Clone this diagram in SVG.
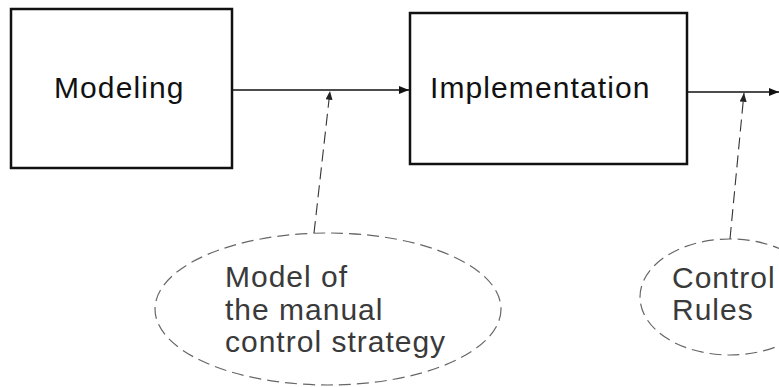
<svg xmlns="http://www.w3.org/2000/svg" width="779" height="387" viewBox="0 0 779 387">
<style>
.box{fill:#fff;stroke:#111;stroke-width:2.5}
.lbl{font-family:"Liberation Sans",Arial,sans-serif;font-size:30px;letter-spacing:1.1px;fill:#111}
.note{font-family:"Liberation Sans",Arial,sans-serif;font-size:30px;letter-spacing:1px;fill:#3a3a3a}
.oval{fill:none;stroke:#666;stroke-width:1.2;stroke-dasharray:12 6}
.flow{fill:none;stroke:#111;stroke-width:1.6}
.dash{fill:none;stroke:#333;stroke-width:1.1;stroke-dasharray:12 6}
</style>
<defs>
<marker id="ah" viewBox="0 0 10 8" refX="10" refY="4" markerWidth="11" markerHeight="8" markerUnits="userSpaceOnUse" orient="auto">
<path d="M0,0 L10,4 L0,8 Z" fill="#111"/>
</marker>
<marker id="ahs" viewBox="0 0 10 8" refX="10" refY="4" markerWidth="9" markerHeight="7" markerUnits="userSpaceOnUse" orient="auto">
<path d="M0,0 L10,4 L0,8 Z" fill="#222"/>
</marker>
</defs>
<rect width="779" height="387" fill="#fff"/>
<g id="modeling">
<rect class="box" x="11" y="9" width="221" height="159"/>
<text class="lbl" x="54" y="98">Modeling</text>
</g>
<g id="implementation">
<rect class="box" x="410" y="13" width="277" height="151"/>
<text class="lbl" x="430" y="98">Implementation</text>
</g>
<g id="model-note">
<ellipse class="oval" cx="328" cy="309" rx="173" ry="76"/>
<text class="note" x="225" y="287">Model of</text>
<text class="note" x="225" y="320">the manual</text>
<text class="note" x="225" y="352">control strategy</text>
</g>
<g id="rules-note">
<ellipse class="oval" cx="730" cy="297" rx="90" ry="58"/>
<text class="note" x="672" y="288">Control</text>
<text class="note" x="672" y="320">Rules</text>
</g>
<g id="connectors">
<line class="flow" x1="233" y1="90" x2="409" y2="90" marker-end="url(#ah)"/>
<line class="flow" x1="688" y1="92" x2="779" y2="92" marker-end="url(#ah)"/>
<line class="dash" x1="314" y1="233" x2="330" y2="91" marker-end="url(#ahs)"/>
<line class="dash" x1="730" y1="239" x2="744" y2="93" marker-end="url(#ahs)"/>
</g>
</svg>
